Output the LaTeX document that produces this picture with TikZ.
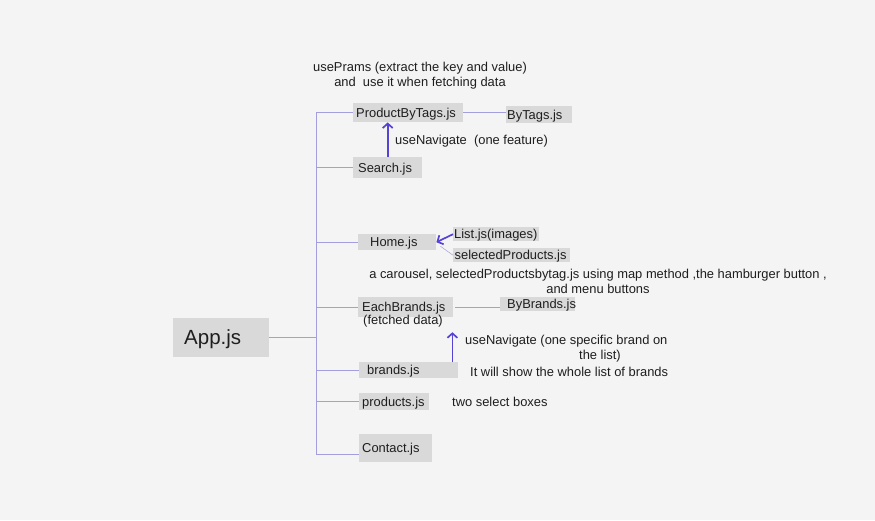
\documentclass[tikz,border=0pt]{standalone}
\usepackage{fontspec}
\setmainfont{Liberation Sans}
\usetikzlibrary{arrows.meta}
\definecolor{bg}{HTML}{F4F4F4}
\definecolor{boxgray}{HTML}{D9D9D9}
\definecolor{linkviolet}{HTML}{A39EDD}
\definecolor{navviolet}{HTML}{5543D6}
\definecolor{ink}{HTML}{1E1E1E}
\tikzset{
  file/.style={fill=boxgray, text=ink, anchor=north west, inner ysep=0pt, align=left, text depth=0.5pt, font=\fontsize{12.9}{14}\selectfont},
  note/.style={text=ink, inner sep=0pt, font=\fontsize{12.9}{14.8}\selectfont},
  link/.style={draw=linkviolet, line width=0.8pt},
  nav/.style={draw=navviolet, line width=1.7pt, -{Straight Barb[length=4.5pt,width=10pt]}}
}
\begin{document}
\begin{tikzpicture}[x=1pt, y=-1pt]
            \fill[bg] (0,0) rectangle (875,520);
            % files
            \node[file, inner xsep=11pt, text width=74pt, minimum height=39pt, font=\fontsize{20.5}{24}\selectfont] (app) at (173,318) {App.js};
            \node[file, inner xsep=3pt, text width=104pt, minimum height=19pt] (tags) at (353,103) {ProductByTags.js};
            \node[file, inner xsep=1pt, text width=64pt, minimum height=17pt] (bytags) at (506,106) {ByTags.js};
            \node[file, inner xsep=5pt, text width=59pt, minimum height=21pt] (search) at (353,157) {Search.js};
            \node[file, inner xsep=12pt, text width=54pt, minimum height=16pt] (home) at (358,234) {Home.js};
            \node[file, inner xsep=1pt, text width=84pt, minimum height=14pt] (list) at (453,227) {List.js(images)};
            \node[file, inner xsep=1.5pt, text width=114pt, minimum height=14pt] (selp) at (453,248) {selectedProducts.js};
            \node[file, inner xsep=4pt, text width=87pt, minimum height=20pt] (each) at (358,297) {EachBrands.js};
            \node[file, inner xsep=7pt, text width=61pt, minimum height=14pt] (bybrands) at (500,297) {ByBrands.js};
            \node[file, inner xsep=8pt, text width=83pt, minimum height=16pt] (brands) at (359,362) {brands.js};
            \node[file, inner xsep=3pt, text width=64pt, minimum height=17pt] (products) at (359,393) {products.js};
            \node[file, inner xsep=3pt, text width=67pt, minimum height=28pt] (contact) at (359,434) {Contact.js};
            % notes
            \node[note, align=center] (params) at (420,75.5) {usePrams (extract the key and value)\\and\ \ use it when fetching data};
            \node[note, anchor=west] (navone) at (395,141) {useNavigate\ \ (one feature)};
            \node[note, align=center] (carousel) at (598,281) {a carousel, selectedProductsbytag.js using map method ,the hamburger button ,\\and menu buttons};
            \node[note] (fetched) at (403,321) {(fetched data)};
            \node[note, anchor=west, align=left] (navtwo) at (465,349) {useNavigate (one specific brand on\\\hspace*{114pt}the list)};
            \node[note, anchor=west] (showall) at (470,372) {It will show the whole list of brands};
            \node[note, anchor=west] (twosel) at (452,402) {two select boxes};
            % tree
            \coordinate (spine) at (316,0);
            \coordinate (contactin) at ([yshift=-6pt]contact.west);
            \coordinate (navfoot) at ([xshift=-6pt]brands.north east);
            \draw[link] (app.east) -- (app.east -| spine);
            \draw[link] (spine |- tags.west) -- (spine |- contactin);
            \foreach \n in {tags,search,home,each,brands,products}
                \draw[link] (spine |- \n.west) -- (\n.west);
            \draw[link] (spine |- contactin) -- (contactin);
            \draw[link] (tags.east) -- (tags.east -| bytags.west);
            \draw[link] ([xshift=2pt]each.east) -- (each.east -| bybrands.west);
            \draw[link, line width=0.5pt] ([shift={(4pt,-4pt)}]home.east) -- (selp.west);
            % navigation
            \draw[nav] (search.north) -- (search.north |- tags.south);
            \draw[nav] (list.west) -- (home.east);
            \draw[nav, shorten >=5pt] (navfoot) -- (navfoot |- fetched.south);
        \end{tikzpicture}
\end{document}
